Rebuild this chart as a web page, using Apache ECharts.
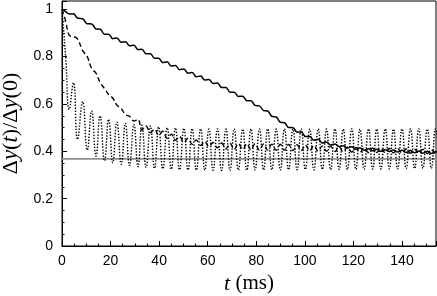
<!DOCTYPE html>
<html>
<head>
<meta charset="utf-8">
<script src="https://cdn.jsdelivr.net/npm/echarts@6/dist/echarts.min.js"></script>
<style>html,body{margin:0;padding:0;background:#fff;}#c{width:437px;height:296px;}</style>
</head>
<body>
<div id="c"></div>
<script>
// time samples (ms)
const tms = [0, 1.5, 3.0, 4.7, 6.4, 8.5, 10.4, 12.2, 14.0, 15.7, 17.5, 19.2, 20.9, 22.6, 24.4, 26.1, 27.8, 29.6, 31.3, 32.9,
  34.6, 36.4, 38.1, 39.8, 41.5, 43.3, 45.0, 46.7, 48.4, 50.2,
  51.9, 53.6, 55.3, 57.1, 58.8, 60.5, 62.2, 64.0, 65.7, 67.5,
  69.2, 70.9, 72.6, 74.4, 76.1, 77.8, 79.5, 81.3, 83.0, 84.7,
  86.4, 88.2, 89.9, 91.6, 93.3, 95.1, 96.8, 98.5, 100.2, 102.0,
  103.7, 105.5, 107.2, 108.9, 110.6, 112.4, 114.1, 115.8, 117.5, 119.3,
  121.0, 122.7, 124.4, 126.2, 127.9, 129.6, 131.3, 133.1, 134.8, 136.5,
  138.2, 140.0, 141.7, 143.5, 145.2, 146.9, 148.6, 150.4, 152.1, 153.8,
  155.5];
const solidY = [1.0, 0.99, 0.980, 0.981, 0.963, 0.960, 0.939, 0.938, 0.917, 0.916, 0.895, 0.895, 0.876, 0.879, 0.861, 0.863, 0.846, 0.848, 0.830, 0.831,
  0.812, 0.812, 0.793, 0.793, 0.775, 0.778, 0.760, 0.763, 0.745, 0.748,
  0.730, 0.733, 0.715, 0.718, 0.701, 0.703, 0.687, 0.689, 0.670, 0.670,
  0.650, 0.650, 0.632, 0.633, 0.614, 0.614, 0.594, 0.592, 0.572, 0.570,
  0.548, 0.545, 0.523, 0.521, 0.501, 0.500, 0.481, 0.482, 0.463, 0.463,
  0.447, 0.451, 0.435, 0.439, 0.427, 0.431, 0.420, 0.424, 0.414, 0.419,
  0.409, 0.414, 0.404, 0.411, 0.402, 0.409, 0.400, 0.407, 0.399, 0.406,
  0.397, 0.404, 0.395, 0.403, 0.394, 0.401, 0.392, 0.400, 0.391, 0.398,
  0.390];
const dashedY = [1.0, 0.95, 0.89, 0.885, 0.875, 0.825, 0.80, 0.75, 0.73, 0.69, 0.665, 0.64, 0.625, 0.595, 0.58, 0.555, 0.548, 0.528, 0.535, 0.490,
  0.507, 0.478, 0.494, 0.468, 0.485, 0.455, 0.472, 0.447, 0.463, 0.438,
  0.455, 0.430, 0.448, 0.425, 0.441, 0.420, 0.437, 0.415, 0.435, 0.410,
  0.434, 0.408, 0.433, 0.407, 0.432, 0.406, 0.432, 0.405, 0.431, 0.405,
  0.430, 0.404, 0.430, 0.404, 0.429, 0.403, 0.428, 0.403, 0.427, 0.402,
  0.425, 0.401, 0.423, 0.400, 0.421, 0.399, 0.419, 0.398, 0.417, 0.397,
  0.416, 0.396, 0.415, 0.395, 0.414, 0.395, 0.413, 0.394, 0.412, 0.393,
  0.411, 0.393, 0.410, 0.392, 0.409, 0.392, 0.408, 0.391, 0.407, 0.391,
  0.406];
const dottedY = [1.0, 0.80, 0.577, 0.69, 0.45, 0.61, 0.405, 0.57, 0.38, 0.55, 0.36, 0.535, 0.352, 0.523, 0.345, 0.518, 0.34, 0.513, 0.335, 0.51,
  0.332, 0.507, 0.328, 0.503, 0.326, 0.500, 0.324, 0.499, 0.322, 0.497,
  0.321, 0.496, 0.320, 0.495, 0.321, 0.494, 0.320, 0.495, 0.319, 0.494,
  0.320, 0.495, 0.321, 0.494, 0.320, 0.495, 0.322, 0.494, 0.321, 0.495,
  0.322, 0.494, 0.321, 0.495, 0.322, 0.494, 0.322, 0.495, 0.323, 0.494,
  0.322, 0.495, 0.323, 0.494, 0.323, 0.495, 0.324, 0.494, 0.323, 0.495,
  0.324, 0.494, 0.324, 0.495, 0.325, 0.494, 0.325, 0.495, 0.326, 0.494,
  0.326, 0.495, 0.327, 0.494, 0.327, 0.495, 0.328, 0.494, 0.328, 0.495,
  0.329];
const refT = [0, 160];
const refY = [0.368, 0.368];

const pairs = (xs, ys) => xs.map((x, i) => [x, ys[i]]);
const serif = 'Liberation Serif';
const sans = 'Liberation Sans';

const chart = echarts.init(document.getElementById('c'), null, {renderer: 'canvas'});
chart.setOption({
  animation: false,
  backgroundColor: '#fff',
  grid: {left: 62, right: 1, top: 1, bottom: 50, outerBoundsMode: 'none', containLabel: false,
    show: true, borderColor: '#000', borderWidth: 1, backgroundColor: 'transparent'},
  xAxis: {
    type: 'value', min: 0, max: 154, interval: 20,
    name: '{i|t} {u|(ms)}', nameLocation: 'middle', nameGap: 26,
    nameTextStyle: {color: '#000', fontFamily: serif, fontSize: 21,
      rich: {i: {fontFamily: serif, fontStyle: 'italic', fontSize: 22, color: '#000'}, u: {fontFamily: serif, fontSize: 21, color: '#000'}}},
    axisLine: {show: true, lineStyle: {color: '#000', width: 1}},
    axisTick: {show: true, inside: true, length: 5, lineStyle: {color: '#000'}},
    minorTick: {show: true, splitNumber: 4, length: 2.5, lineStyle: {color: '#000'}},
    axisLabel: {color: '#000', fontFamily: sans, fontSize: 14, margin: 8, showMaxLabel: false},
    splitLine: {show: false}, minorSplitLine: {show: false}
  },
  yAxis: {
    type: 'value', min: 0, max: 1.035, interval: 0.2,
    name: '{u|Δ}{i|y}{u|(}{i|t}{u|)/Δ}{i|y}{u|(0)}', nameLocation: 'middle', nameGap: 30, nameRotate: 90,
    nameTextStyle: {color: '#000', fontFamily: serif, fontSize: 22,
      rich: {i: {fontFamily: serif, fontStyle: 'italic', fontSize: 23, color: '#000'}, u: {fontFamily: serif, fontSize: 22, color: '#000'}}},
    axisLine: {show: true, lineStyle: {color: '#000', width: 1}},
    axisTick: {show: true, inside: true, length: 5, lineStyle: {color: '#000'}},
    minorTick: {show: true, splitNumber: 4, length: 2.5, lineStyle: {color: '#000'}},
    axisLabel: {color: '#000', fontFamily: sans, fontSize: 14, margin: 9, showMaxLabel: false},
    splitLine: {show: false}, minorSplitLine: {show: false}
  },
  series: [
    {type: 'line', data: pairs(refT, refY), showSymbol: false, lineStyle: {color: '#8e8e8e', width: 1.8}, z: 1},
    {type: 'line', data: pairs(tms, dottedY), showSymbol: false, smooth: 0.5, lineStyle: {color: '#000', width: 1.4, type: [1.4, 1.6]}, z: 2},
    {type: 'line', data: pairs(tms, dashedY), showSymbol: false, smooth: 0.4, lineStyle: {color: '#000', width: 1.4, type: [5, 3]}, z: 3},
    {type: 'line', data: pairs(tms, solidY), showSymbol: false, smooth: 0.4, lineStyle: {color: '#000', width: 1.5}, z: 4}
  ]
});
</script>
</body>
</html>
